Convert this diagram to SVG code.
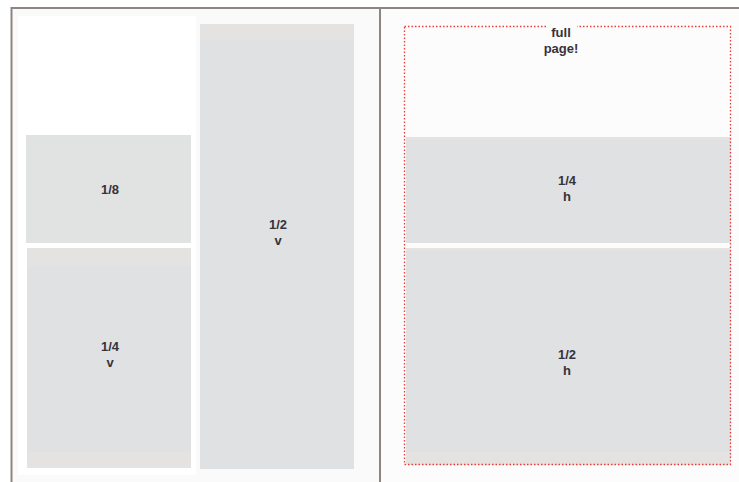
<svg xmlns="http://www.w3.org/2000/svg" width="739" height="482" viewBox="0 0 739 482">
<style>
.lbl{font-family:"Liberation Sans",Arial,sans-serif;font-weight:bold;font-size:13px;fill:#35333d;text-anchor:middle}
.box{fill:#dfe1e3}
.warm{fill:#e5e3e1}
.frame{stroke:#8c8582;stroke-width:2;fill:none}
</style>
<rect x="0" y="0" width="739" height="482" fill="#ffffff"/>
<rect x="12" y="9" width="367" height="473" fill="#fafafa"/>
<rect x="381" y="9" width="358" height="473" fill="#fcfcfc"/>
<rect x="18" y="16" width="178" height="459" fill="#ffffff"/>
<g id="n-eighth">
<rect x="26" y="135" width="165" height="108" fill="#e1e2e2"/>
<text class="lbl" x="110" y="194">1/8</text>
</g>
<g id="n-quarter-v">
<rect class="warm" x="27" y="248" width="164" height="220"/>
<rect class="box" x="27" y="266" width="164" height="186"/>
<text class="lbl" x="110" y="351">1/4</text>
<text class="lbl" x="110" y="367">v</text>
</g>
<g id="n-half-v">
<rect class="box" x="200" y="24" width="154" height="445"/>
<rect class="warm" x="200" y="24" width="154" height="16"/>
<text class="lbl" x="278" y="229">1/2</text>
<text class="lbl" x="278" y="245">v</text>
</g>
<g id="n-quarter-h">
<rect class="box" x="406" y="137" width="325" height="106"/>
<rect class="warm" x="406" y="137" width="325" height="3"/>
<text class="lbl" x="567" y="185">1/4</text>
<text class="lbl" x="567" y="201">h</text>
</g>
<g id="n-half-h">
<rect class="warm" x="406" y="248" width="325" height="217"/>
<rect class="box" x="406" y="251" width="325" height="201"/>
<text class="lbl" x="567" y="359">1/2</text>
<text class="lbl" x="567" y="375">h</text>
</g>
<g id="n-full-page">
<rect x="404.5" y="26.5" width="326" height="438" fill="none" stroke="#f03a3a" stroke-width="1.3" stroke-dasharray="1.5 2"/>
<rect x="547" y="20" width="30" height="18" fill="#fcfcfc"/>
<text class="lbl" x="561" y="36.5">full</text>
<text class="lbl" x="561" y="52.5">page!</text>
</g>
<g id="connectors">
<path class="frame" d="M11.5 482 V8 H739"/>
<path class="frame" d="M380 8 V482"/>
</g>
</svg>
